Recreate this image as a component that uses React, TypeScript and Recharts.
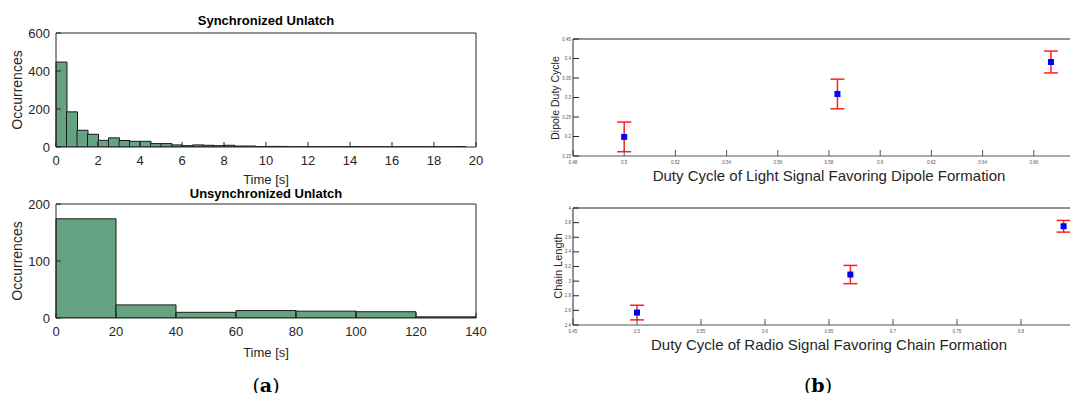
import { Bar, ComposedChart, ErrorBar, Scatter, ScatterChart, XAxis, YAxis } from "recharts"

// histogram (a): bin start values [s] and counts
const syncBinStart = [
  0, 0.5, 1, 1.5, 2, 2.5, 3, 3.5, 4, 4.5, 5, 5.5, 6, 6.5, 7, 7.5, 8, 8.5, 9, 9.5,
  10, 10.5, 11, 11.5, 12, 12.5, 13, 13.5, 14, 14.5, 15, 15.5, 16, 16.5, 17, 17.5, 18, 18.5, 19, 19.5,
]
const syncCounts = [
  447, 185, 88, 67, 35, 48, 34, 30, 30, 18, 18, 11, 7, 11, 9, 7, 9, 5, 5, 2,
  3, 3, 1, 1, 1, 1, 1, 1, 2, 1, 1, 1, 1, 1, 1, 1, 1, 1, 2, 0,
]
const syncTicksX = [0, 2, 4, 6, 8, 10, 12, 14, 16, 18, 20]
const syncTicksY = [0, 200, 400, 600]

const unsyncBinStart = [0, 20, 40, 60, 80, 100, 120]
const unsyncCounts = [174, 23, 10, 13, 12, 11, 2]
const unsyncTicksX = [0, 20, 40, 60, 80, 100, 120, 140]
const unsyncTicksY = [0, 100, 200]

// (b): duty cycle measurements
const lightX = [0.5, 0.5833, 0.6667]
const dipoleY = [0.199, 0.309, 0.391]
const dipoleErr = [0.038, 0.038, 0.028]
const lightDomain = [0.48, 0.68]
const lightTicksX = [0.48, 0.5, 0.52, 0.54, 0.56, 0.58, 0.6, 0.62, 0.64, 0.66]
const dipoleTicksY = [0.15, 0.2, 0.25, 0.3, 0.35, 0.4, 0.45]

const radioX = [0.5, 0.6667, 0.8333]
const chainY = [2.57, 3.09, 3.75]
const chainErr = [0.1, 0.125, 0.08]
const radioDomain = [0.45, 0.85]
const radioTicksX = [0.45, 0.5, 0.55, 0.6, 0.65, 0.7, 0.75, 0.8]
const chainTicksY = [2.4, 2.6, 2.8, 3, 3.2, 3.4, 3.6, 3.8, 4]

const FONT = "'Liberation Sans', Arial, sans-serif"
const BAR = "#65a383"
const AXIS = "#262626"

const fmt = (v: number) => String(parseFloat(v.toFixed(2)))

const Text = ({ x, y, size, bold, rotate, children, color = "#262626" }: any) => (
  <div
    style={{
      position: "absolute",
      left: x,
      top: y,
      transform: `translate(-50%, -50%)${rotate ? " rotate(-90deg)" : ""}`,
      fontFamily: FONT,
      fontSize: size,
      fontWeight: bold ? "bold" : "normal",
      color,
      whiteSpace: "nowrap",
      lineHeight: 1,
    }}
  >
    {children}
  </div>
)

// axes are 1px thick so they render; margins are reduced by 1 to keep the plot box in place
function Histogram({ starts, counts, ticksX, ticksY, top, bottom }: any) {
  const data = starts.map((s: number, i: number) => ({ bin: s, count: counts[i] }))
  const tickStyle = { fontSize: 13, fill: AXIS, fontFamily: FONT }
  const xMax = ticksX[ticksX.length - 1]
  const yMax = ticksY[ticksY.length - 1]
  return (
    <ComposedChart
      width={500}
      height={190}
      data={data}
      barCategoryGap={0}
      barGap={0}
      margin={{ top: top - 1, left: 55, right: 23, bottom: bottom - 1 }}
    >
      <XAxis xAxisId="cat" dataKey="bin" hide height={0} />
      <XAxis
        xAxisId="num"
        dataKey="bin"
        type="number"
        domain={[0, xMax]}
        ticks={ticksX}
        allowDataOverflow
        height={1}
        tickSize={-5}
        tickMargin={14}
        stroke={AXIS}
        tick={tickStyle}
        interval={0}
      />
      <XAxis
        xAxisId="top"
        dataKey="bin"
        orientation="top"
        type="number"
        domain={[0, xMax]}
        ticks={ticksX}
        allowDataOverflow
        height={1}
        tickSize={-5}
        stroke={AXIS}
        tick={false}
      />
      <YAxis
        domain={[0, yMax]}
        ticks={ticksY}
        allowDataOverflow
        width={1}
        tickSize={-5}
        tickMargin={11}
        stroke={AXIS}
        tick={tickStyle}
        interval={0}
      />
      <YAxis
        yAxisId="right"
        dataKey="count"
        orientation="right"
        domain={[0, yMax]}
        ticks={ticksY}
        allowDataOverflow
        width={1}
        tickSize={-5}
        stroke={AXIS}
        tick={false}
      />
      <Bar xAxisId="cat" dataKey="count" fill={BAR} stroke="#1a1a1a" strokeWidth={1} isAnimationActive={false} />
    </ComposedChart>
  )
}

function ErrorPlot({ xs, ys, errs, xDomain, ticksX, ticksY, top, bottom }: any) {
  const data = xs.map((x: number, i: number) => ({ x, y: ys[i], err: errs[i] }))
  const tickStyle = { fontSize: 4.5, fill: "#555", fontFamily: FONT }
  const yd = [ticksY[0], ticksY[ticksY.length - 1]]
  return (
    <ScatterChart width={560} height={200} margin={{ top: top - 1, left: 32, right: 14, bottom: bottom - 1 }}>
      <XAxis
        type="number"
        dataKey="x"
        domain={xDomain}
        ticks={ticksX}
        allowDataOverflow
        height={1}
        tickSize={-6}
        tickMargin={11}
        stroke="#555"
        tick={tickStyle}
        tickFormatter={fmt}
        interval={0}
      />
      <XAxis
        xAxisId="top"
        orientation="top"
        type="number"
        domain={xDomain}
        ticks={ticksX}
        allowDataOverflow
        height={1}
        tickSize={-6}
        stroke={AXIS}
        tick={false}
      />
      <YAxis
        type="number"
        dataKey="y"
        domain={yd}
        ticks={ticksY}
        allowDataOverflow
        width={1}
        tickSize={-6}
        tickMargin={8}
        stroke={AXIS}
        tick={tickStyle}
        tickFormatter={fmt}
        interval={0}
      />
      <YAxis
        yAxisId="right"
        orientation="right"
        type="number"
        domain={yd}
        ticks={ticksY}
        allowDataOverflow
        width={1}
        tickSize={-6}
        stroke={AXIS}
        tick={false}
      />
      <Scatter
        data={data}
        isAnimationActive={false}
        shape={(p: any) => <rect x={p.cx - 3} y={p.cy - 3} width={6} height={6} fill="#0000ff" />}
      >
        <ErrorBar dataKey="err" direction="y" width={7} stroke="#ff2020" strokeWidth={1.5} isAnimationActive={false} />
      </Scatter>
    </ScatterChart>
  )
}

export default function App() {
  return (
    <div style={{ position: "relative", width: 1078, height: 401, margin: -8, overflow: "hidden", background: "#fff" }}>
      <div style={{ position: "absolute", left: 0, top: 0 }}>
        <Histogram starts={syncBinStart} counts={syncCounts} ticksX={syncTicksX} ticksY={syncTicksY} top={33} bottom={43} />
      </div>
      <div style={{ position: "absolute", left: 0, top: 170 }}>
        <Histogram starts={unsyncBinStart} counts={unsyncCounts} ticksX={unsyncTicksX} ticksY={unsyncTicksY} top={34} bottom={42} />
      </div>
      <div style={{ position: "absolute", left: 540, top: 0 }}>
        <ErrorPlot xs={lightX} ys={dipoleY} errs={dipoleErr} xDomain={lightDomain} ticksX={lightTicksX} ticksY={dipoleTicksY} top={39} bottom={44} />
      </div>
      <div style={{ position: "absolute", left: 540, top: 170 }}>
        <ErrorPlot xs={radioX} ys={chainY} errs={chainErr} xDomain={radioDomain} ticksX={radioTicksX} ticksY={chainTicksY} top={38} bottom={45} />
      </div>

      <Text x={266} y={20} size={13} bold color="#000">Synchronized Unlatch</Text>
      <Text x={266} y={179} size={13}>Time [s]</Text>
      <Text x={17} y={90} size={14} rotate>Occurrences</Text>
      <Text x={266} y={193} size={13} bold color="#000">Unsynchronized Unlatch</Text>
      <Text x={266} y={352} size={13}>Time [s]</Text>
      <Text x={17} y={261} size={14} rotate>Occurrences</Text>

      <Text x={555} y={98} size={10.5} rotate>Dipole Duty Cycle</Text>
      <Text x={829} y={175} size={15}>Duty Cycle of Light Signal Favoring Dipole Formation</Text>
      <Text x={558} y={266} size={11} rotate>Chain Length</Text>
      <Text x={829} y={344} size={15}>Duty Cycle of Radio Signal Favoring Chain Formation</Text>

      <div style={{ position: "absolute", left: 266, top: 385, transform: "translate(-50%, -50%)", fontFamily: "'DejaVu Serif', serif", fontSize: 19, color: "#000" }}>
        (<b>a</b>)
      </div>
      <div style={{ position: "absolute", left: 818, top: 385, transform: "translate(-50%, -50%)", fontFamily: "'DejaVu Serif', serif", fontSize: 19, color: "#000" }}>
        (<b>b</b>)
      </div>
    </div>
  )
}
